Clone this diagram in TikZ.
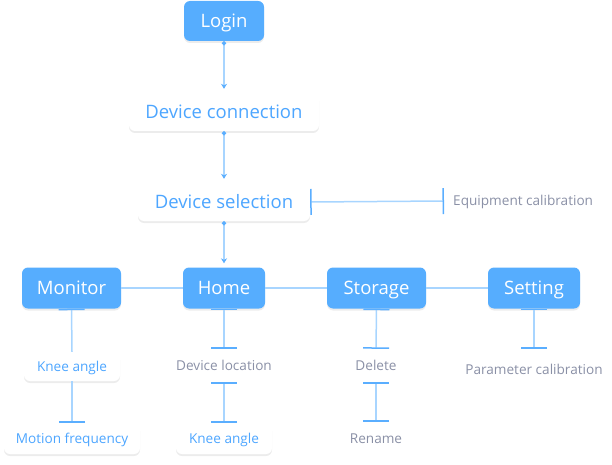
\documentclass[tikz,border=0pt]{standalone}
\usepackage{fontspec}
\setmainfont{Open Sans}
\usetikzlibrary{arrows.meta,shadows}
\definecolor{bfill}{HTML}{56ADFE}
\definecolor{btext}{HTML}{4DA6FF}
\definecolor{gtext}{HTML}{8A90A6}
\definecolor{lline}{HTML}{A8D5FF}
\definecolor{tbar}{HTML}{5AAEFF}
\tikzset{
  big/.style={font=\fontsize{18.5}{22}\selectfont,text height=17.2pt,text depth=4pt},
  small/.style={font=\fontsize{13.6}{16}\selectfont,text height=12.7pt,text depth=3pt},
  shad/.style={drop shadow={shadow xshift=0pt,shadow yshift=-2pt,opacity=0.12,fill=black!60}},
  mainbox/.style={shad,fill=bfill,text=white,rounded corners=6pt,big,inner sep=0pt},
  whitebox/.style={shad,fill=white,text=btext,rounded corners=6pt,inner sep=0pt},
  plain/.style={text=gtext,small,inner sep=0pt},
  conn/.style={draw=lline,line width=1.5pt},
  TB/.tip={Bar[width=26pt,line width=1.5pt,color=tbar]},
  DT/.tip={Circle[length=4pt,color=tbar]},
  AT/.tip={Stealth[length=5pt,width=6pt,color=tbar]},
  arr/.style={conn,DT-AT,shorten >=4pt},
}
\begin{document}
\begin{tikzpicture}[x=1pt,y=-1pt]
\useasboundingbox (0,0) rectangle (612,465);
\node[mainbox,minimum width=80pt,minimum height=40pt] (login) at (224,21) {Login};
\node[whitebox,minimum width=190pt,minimum height=38pt,big] (dconn) at (224,112) {Device connection};
\node[whitebox,minimum width=172pt,minimum height=38pt,big] (dsel) at (224,202) {Device selection};
\node[plain,anchor=west,minimum height=26pt,inner xsep=9pt] (equip) at (444,201) {Equipment calibration};

\node[mainbox,minimum width=99pt,minimum height=41pt] (mon) at (71.5,288) {Monitor};
\node[mainbox,minimum width=82pt,minimum height=41pt] (home) at (224,288) {Home};
\node[mainbox,minimum width=99pt,minimum height=41pt] (stor) at (376.5,288) {Storage};
\node[mainbox,minimum width=92pt,minimum height=41pt] (set) at (534,288) {Setting};

\node[whitebox,minimum width=96pt,minimum height=29pt,small] (mknee) at (72,366.5) {Knee angle};
\node[whitebox,minimum width=136pt,minimum height=31pt,small] (mfreq) at (72,438.5) {Motion frequency};
\node[plain,minimum height=33pt,minimum width=110pt] (hloc) at (224,365.5) {Device location};
\node[whitebox,minimum width=96pt,minimum height=31pt,small] (hknee) at (224,438.5) {Knee angle};
\node[plain,minimum height=33pt,minimum width=60pt] (sdel) at (376,365.5) {Delete};
\node[plain,minimum height=33pt,minimum width=60pt] (sren) at (376,438.5) {Rename};
\node[plain,minimum height=42pt,minimum width=130pt] (spar) at (534,370) {Parameter calibration};

% vertical main flow
\draw[arr] (login.south) -- (dconn.north);
\draw[arr] (dconn.south) -- (dsel.north);
\draw[arr] (dsel.south) -- (home.north);
% side branch
\draw[conn,TB-TB] (dsel.east) -- (equip.west);
% horizontal row
\draw[conn] (mon.east) -- (home.west);
\draw[conn] (home.east) -- (stor.west);
\draw[conn] (stor.east) -- (set.west);
% monitor branch
\draw[conn,TB-] (mon.south) -- (mknee.north);
\draw[conn,-TB] (mknee.south) -- (mfreq.north);
% home branch
\draw[conn,TB-TB] (home.south) -- (hloc.north);
\draw[conn,TB-TB] (hloc.south) -- (hknee.north);
% storage branch
\draw[conn,TB-TB] (stor.south) -- (sdel.north);
\draw[conn,TB-TB] (sdel.south) -- (sren.north);
% setting branch
\draw[conn,TB-TB] (set.south) -- (spar.north);
\end{tikzpicture}
\end{document}
